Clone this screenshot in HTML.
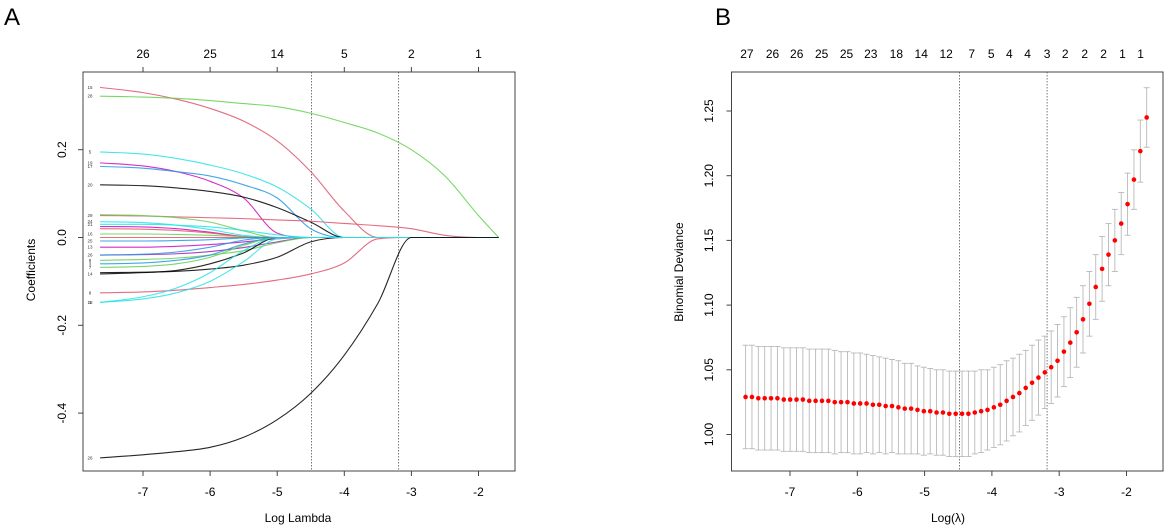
<!DOCTYPE html>
<html><head><meta charset="utf-8"><style>
body{margin:0;background:#fff;}
svg{display:block;font-family:"Liberation Sans",sans-serif;}
</style></head><body>
<svg id="fig" width="1170" height="529" viewBox="0 0 1170 529" xmlns="http://www.w3.org/2000/svg">
<text x="4" y="25" font-size="24">A</text>
<text x="715" y="25" font-size="24">B</text>
<g id="pa"></g>
<g id="pb"></g>
</svg>
<script>
// ---------- Panel A data ----------
const gridA = [-7.64,-7,-6.5,-6,-5.5,-5,-4.5,-4,-3.5,-3,-2.5,-2,-1.7];
const pathColors = ["#DF536B","#61D04F","#28E2E5","#CD0BBC","#2297E6","#000000","#DF536B","#61D04F","#28E2E5","#28E2E5","#CD0BBC","#DF536B","#61D04F","#DF536B","#2297E6","#CD0BBC","#9F1FB0","#2297E6","#61D04F","#2297E6","#61D04F","#000000","#000000","#DF536B","#28E2E5","#28E2E5","#000000"];
const pathLabels = ["15","28","5","19","17","20","29","","24","21","","","16","","25","13","26","","9","3","7","","14","8","18","1","26"];
const pathValues = [
 [0.342,0.33,0.315,0.294,0.265,0.22,0.15,0.06,0,0,0,0,0],
 [0.322,0.32,0.317,0.312,0.305,0.298,0.283,0.262,0.238,0.2,0.14,0.05,0],
 [0.195,0.19,0.18,0.165,0.145,0.115,0.065,0,0,0,0,0,0],
 [0.17,0.163,0.15,0.128,0.09,0.01,0,0,0,0,0,0,0],
 [0.162,0.158,0.15,0.14,0.12,0.09,0.02,0,0,0,0,0,0],
 [0.12,0.118,0.113,0.105,0.092,0.068,0.035,0,0,0,0,0,0],
 [0.05,0.049,0.047,0.045,0.043,0.04,0.037,0.032,0.027,0.02,0.005,0,0],
 [0.052,0.05,0.045,0.035,0.015,0,0,0,0,0,0,0,0],
 [0.036,0.034,0.028,0.018,0.005,0,0,0,0,0,0,0,0],
 [0.03,0.03,0.028,0.024,0.016,0.006,0,0,0,0,0,0,0],
 [0.025,0.024,0.02,0.012,0.002,0,0,0,0,0,0,0,0],
 [0.02,0.019,0.016,0.01,0.002,0,0,0,0,0,0,0,0],
 [0.008,0.008,0.007,0.005,0.002,0,0,0,0,0,0,0,0],
 [0.0,0,0,0,0,0,0,0,0,0,0,0,0],
 [-0.008,-0.008,-0.007,-0.005,-0.001,0,0,0,0,0,0,0,0],
 [-0.022,-0.022,-0.02,-0.016,-0.01,-0.003,0,0,0,0,0,0,0],
 [-0.04,-0.039,-0.037,-0.032,-0.023,-0.01,0,0,0,0,0,0,0],
 [-0.04,-0.038,-0.033,-0.022,-0.006,0,0,0,0,0,0,0,0],
 [-0.052,-0.05,-0.047,-0.04,-0.03,-0.012,0,0,0,0,0,0,0],
 [-0.06,-0.058,-0.052,-0.04,-0.015,0,0,0,0,0,0,0,0],
 [-0.068,-0.066,-0.06,-0.045,-0.018,0,0,0,0,0,0,0,0],
 [-0.08,-0.079,-0.077,-0.072,-0.063,-0.045,-0.01,0,0,0,0,0,0],
 [-0.083,-0.08,-0.075,-0.06,-0.035,0,0,0,0,0,0,0,0],
 [-0.126,-0.124,-0.12,-0.114,-0.107,-0.097,-0.083,-0.058,-0.003,0,0,0,0],
 [-0.148,-0.14,-0.126,-0.1,-0.055,-0.003,0,0,0,0,0,0,0],
 [-0.148,-0.135,-0.115,-0.08,-0.03,0,0,0,0,0,0,0,0],
 [-0.502,-0.495,-0.488,-0.478,-0.455,-0.415,-0.355,-0.268,-0.15,0,0,0,0]
];
const topTicksA = [-7,-6,-5,-4,-3,-2];
const topLabelsA = ["26","25","14","5","2","1"];
const xTicksA = [-7,-6,-5,-4,-3,-2];
const yTicksA = [0.2,0,-0.2,-0.4];
const yTickLabelsA = ["0.2","0.0","-0.2","-0.4"];
const vlinesA = [-4.49,-3.19];

// ---------- Panel B data ----------
const lamB0 = -7.66, lamBStep = 0.0946;
const meanDev = [1.029,1.029,1.028,1.028,1.028,1.028,1.027,1.027,1.027,1.027,1.026,1.026,1.026,1.026,1.025,1.025,1.025,1.024,1.024,1.024,1.023,1.023,1.022,1.022,1.021,1.020,1.020,1.019,1.018,1.018,1.017,1.017,1.016,1.016,1.016,1.016,1.017,1.018,1.019,1.021,1.023,1.026,1.029,1.032,1.036,1.040,1.044,1.048,1.052,1.057,1.064,1.071,1.079,1.089,1.101,1.114,1.128,1.139,1.150,1.163,1.178,1.197,1.219,1.245];
const seDev = [.040,.040,.040,.040,.040,.040,.040,.040,.040,.040,.040,.040,.040,.040,.040,.039,.039,.039,.039,.038,.038,.037,.037,.036,.036,.035,.035,.034,.034,.033,.033,.033,.033,.033,.033,.033,.032,.032,.031,.031,.031,.031,.030,.030,.029,.029,.029,.028,.028,.028,.027,.027,.027,.026,.025,.025,.025,.024,.024,.024,.024,.023,.024,.023];
const topTicksB = [-7.64,-7.26,-6.9,-6.53,-6.16,-5.80,-5.42,-5.05,-4.68,-4.30,-4.01,-3.74,-3.47,-3.18,-2.91,-2.62,-2.34,-2.06,-1.79];
const topLabelsB = ["27","26","26","25","25","23","18","14","12","7","5","4","4","3","2","2","2","1","1"];
const xTicksB = [-7,-6,-5,-4,-3,-2];
const yTicksB = [1.00,1.05,1.10,1.15,1.20,1.25];
const vlinesB = [-4.48,-3.18];

const NS="http://www.w3.org/2000/svg";
function mk(parent,tag,attrs){const e=document.createElementNS(NS,tag);for(const k in attrs)e.setAttribute(k,attrs[k]);parent.appendChild(e);return e;}

// Panel A axes
const xA = v => 143 + (v + 7) * 67.1;
const yA = v => 237.5 - v * 439;
const pa = document.getElementById('pa');

function monotonePath(xs, ys){
  const n=xs.length, d=[], m=[];
  for(let i=0;i<n-1;i++) d.push((ys[i+1]-ys[i])/(xs[i+1]-xs[i]));
  m[0]=d[0]; m[n-1]=d[n-2];
  for(let i=1;i<n-1;i++){ m[i]=(d[i-1]*d[i]<=0)?0:(d[i-1]+d[i])/2; }
  for(let i=0;i<n-1;i++){ if(d[i]===0){m[i]=0;m[i+1]=0;} else { const a=m[i]/d[i], b=m[i+1]/d[i], s=a*a+b*b; if(s>9){const t=3/Math.sqrt(s);m[i]=t*a*d[i];m[i+1]=t*b*d[i];} } }
  let p="M"+xs[0].toFixed(2)+","+ys[0].toFixed(2);
  for(let i=0;i<n-1;i++){const h=(xs[i+1]-xs[i])/3;
    p+=" C"+(xs[i]+h).toFixed(2)+","+(ys[i]+m[i]*h).toFixed(2)+" "+(xs[i+1]-h).toFixed(2)+","+(ys[i+1]-m[i+1]*h).toFixed(2)+" "+xs[i+1].toFixed(2)+","+ys[i+1].toFixed(2);}
  return p;
}

vlinesA.forEach(v=>{
  const l=mk(pa,'line',{x1:xA(v),x2:xA(v),y1:72,y2:471,stroke:'#555','stroke-width':0.8,'stroke-dasharray':'1.5,1.5'});
  
  
});
pathValues.forEach((vals,i)=>{
  const xs=gridA.map(xA), ys=vals.map(yA);
  const p=mk(pa,'path',{d:monotonePath(xs,ys),fill:'none',stroke:pathColors[i],'stroke-width':1.1,'stroke-opacity':0.85});
  
  
  if(pathLabels[i]){
    const t=mk(pa,'text',{x:90,y:yA(vals[0])+1.5,'font-size':4.5,'text-anchor':'middle',fill:'#333'});
    t.textContent=pathLabels[i];
    
    
  }
});
const fa=mk(pa,'rect',{x:83,y:72,width:432,height:399,fill:'none',stroke:'#444','stroke-width':1});


xTicksA.forEach(v=>{
  mk(pa,'line',{x1:xA(v),x2:xA(v),y1:471,y2:476,stroke:'#444'});
  const t=mk(pa,'text',{x:xA(v),y:496,'font-size':12,'text-anchor':'middle'});t.textContent=String(v);
  
  
});
topTicksA.forEach((v,i)=>{
  mk(pa,'line',{x1:xA(v),x2:xA(v),y1:67,y2:72,stroke:'#444'});
  const t=mk(pa,'text',{x:xA(v),y:58,'font-size':12,'text-anchor':'middle'});t.textContent=topLabelsA[i];
  
  
});
yTicksA.forEach((v,i)=>{
  mk(pa,'line',{x1:78,x2:83,y1:yA(v),y2:yA(v),stroke:'#444'});
  const t=mk(pa,'text',{x:0,y:0,'font-size':12,'text-anchor':'middle',transform:`translate(66,${yA(v)}) rotate(-90)`});t.textContent=yTickLabelsA[i];
  
  
});
{const t=mk(pa,'text',{x:0,y:0,'font-size':12,'text-anchor':'middle',transform:'translate(35,270) rotate(-90)'});t.textContent='Coefficients';


const t2=mk(pa,'text',{x:298,y:522,'font-size':12,'text-anchor':'middle'});t2.textContent='Log Lambda';

}

// Panel B
const xB = v => 790 + (v + 7) * 67.3;
const yB = v => 434.5 - (v - 1.0) * 1294;
const pb = document.getElementById('pb');
vlinesB.forEach(v=>{
  const l=mk(pb,'line',{x1:xB(v),x2:xB(v),y1:72,y2:471,stroke:'#555','stroke-width':0.8,'stroke-dasharray':'1.5,1.5'});
  
  
});
meanDev.forEach((m,i)=>{
  const lam=lamB0+i*lamBStep, x=xB(lam), s=seDev[i];
  const g=mk(pb,'g',{stroke:'#b8b8b8','stroke-width':0.9});
  
  
  mk(g,'line',{x1:x,x2:x,y1:yB(m+s),y2:yB(m-s)});
  mk(g,'line',{x1:x-3,x2:x+3,y1:yB(m+s),y2:yB(m+s)});
  mk(g,'line',{x1:x-3,x2:x+3,y1:yB(m-s),y2:yB(m-s)});
});
meanDev.forEach((m,i)=>{
  const lam=lamB0+i*lamBStep;
  const c=mk(pb,'circle',{cx:xB(lam),cy:yB(m),r:2.3,fill:'#f00'});
  
  
});
const fb=mk(pb,'rect',{x:731.5,y:72,width:431.5,height:399,fill:'none',stroke:'#444','stroke-width':1});


xTicksB.forEach(v=>{
  mk(pb,'line',{x1:xB(v),x2:xB(v),y1:471,y2:476,stroke:'#444'});
  const t=mk(pb,'text',{x:xB(v),y:496,'font-size':12,'text-anchor':'middle'});t.textContent=String(v);
  
  
});
topTicksB.forEach((v,i)=>{
  const t=mk(pb,'text',{x:xB(v),y:58,'font-size':12,'text-anchor':'middle'});t.textContent=topLabelsB[i];
  
  
});
yTicksB.forEach(v=>{
  mk(pb,'line',{x1:726.5,x2:731.5,y1:yB(v),y2:yB(v),stroke:'#444'});
  const t=mk(pb,'text',{x:0,y:0,'font-size':12,'text-anchor':'middle',transform:`translate(713,${yB(v)}) rotate(-90)`});t.textContent=v.toFixed(2);
  
  
});
{const t=mk(pb,'text',{x:0,y:0,'font-size':12,'text-anchor':'middle',transform:'translate(683,272) rotate(-90)'});t.textContent='Binomial Deviance';


const t2=mk(pb,'text',{x:948,y:522,'font-size':12,'text-anchor':'middle'});t2.textContent='Log(λ)';

}
</script>
</body></html>
